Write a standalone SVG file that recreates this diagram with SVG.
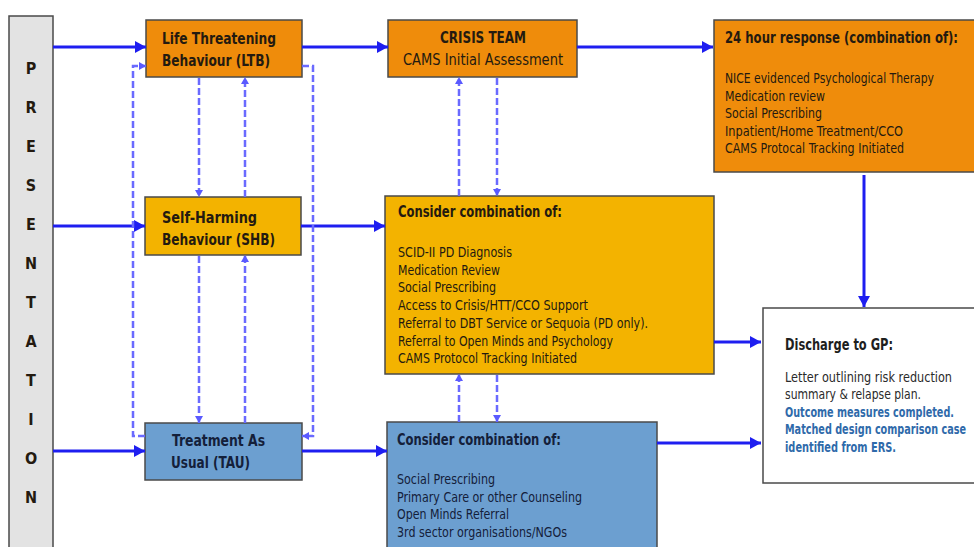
<svg xmlns="http://www.w3.org/2000/svg" width="974" height="547" viewBox="0 0 974 547">
<defs>
<marker id="ah" markerUnits="userSpaceOnUse" markerWidth="12" markerHeight="12" refX="11" refY="6" orient="auto">
<path d="M0,0 L11,6 L0,12 z" fill="#1e1ef0"/>
</marker>
<marker id="ahd" markerUnits="userSpaceOnUse" markerWidth="8" markerHeight="8" refX="7" refY="4" orient="auto">
<path d="M0,0 L7,4 L0,8 z" fill="#5a5aff"/>
</marker>
</defs>
<style>
text{font-family:"DejaVu Sans Condensed","Liberation Sans Narrow","Liberation Sans",sans-serif;fill:#241a10}
.t{font-size:16px;font-weight:bold}
.r{font-size:16px}
.i{font-size:13.5px}
.b{fill:#2f6aaa}
.box{stroke:#4a4a4a;stroke-width:1.5}
.sol{fill:none;stroke:#1e1ef0;stroke-width:3;marker-end:url(#ah)}
.dsh{fill:none;stroke:#6a6aff;stroke-width:2.5;stroke-dasharray:7 3;marker-end:url(#ahd)}
</style>
<rect width="974" height="547" fill="#ffffff"/>

<g id="presentation">
<rect class="box" x="9" y="16" width="44" height="545" fill="#e3e3e3" stroke="#777"/>
<text class="t" text-anchor="middle" font-size="15px"><tspan x="31" y="74">P</tspan><tspan x="31" y="113">R</tspan><tspan x="31" y="152">E</tspan><tspan x="31" y="191">S</tspan><tspan x="31" y="230">E</tspan><tspan x="31" y="269">N</tspan><tspan x="31" y="308">T</tspan><tspan x="31" y="347">A</tspan><tspan x="31" y="386">T</tspan><tspan x="31" y="425">I</tspan><tspan x="31" y="464">O</tspan><tspan x="31" y="503">N</tspan></text>
</g>

<g id="ltb">
<rect class="box" x="146" y="20" width="156" height="57" fill="#ef8c0b"/>
<text class="t" x="162" y="44" textLength="114" lengthAdjust="spacingAndGlyphs">Life Threatening</text>
<text class="t" x="162" y="66" textLength="108" lengthAdjust="spacingAndGlyphs">Behaviour (LTB)</text>
</g>

<g id="shb">
<rect class="box" x="145" y="197" width="156" height="58" fill="#f3b300"/>
<text class="t" x="162" y="223" textLength="95" lengthAdjust="spacingAndGlyphs">Self-Harming</text>
<text class="t" x="162" y="245" textLength="113" lengthAdjust="spacingAndGlyphs">Behaviour (SHB)</text>
</g>

<g id="tau">
<rect class="box" x="145" y="423" width="157" height="57" fill="#6c9fd0"/>
<text class="t" x="172" y="446" textLength="93" lengthAdjust="spacingAndGlyphs" style="fill:#14203a">Treatment As</text>
<text class="t" x="171" y="468" textLength="79" lengthAdjust="spacingAndGlyphs" style="fill:#14203a">Usual (TAU)</text>
</g>

<g id="crisis">
<rect class="box" x="388" y="20" width="189" height="57" fill="#ef8c0b"/>
<text class="t" x="483" y="43" text-anchor="middle" textLength="86" lengthAdjust="spacingAndGlyphs">CRISIS TEAM</text>
<text class="r" x="483" y="65" text-anchor="middle" textLength="160" lengthAdjust="spacingAndGlyphs">CAMS Initial Assessment</text>
</g>

<g id="response24">
<rect class="box" x="714" y="20" width="270" height="152" fill="#ef8c0b"/>
<text class="t" x="725" y="43" textLength="233" lengthAdjust="spacingAndGlyphs">24 hour response (combination of):</text>
<text class="i" x="725" y="83" textLength="209" lengthAdjust="spacingAndGlyphs">NICE evidenced Psychological Therapy</text>
<text class="i" x="725" y="100.5" textLength="100" lengthAdjust="spacingAndGlyphs">Medication review</text>
<text class="i" x="725" y="118" textLength="97" lengthAdjust="spacingAndGlyphs">Social Prescribing</text>
<text class="i" x="725" y="135.5" textLength="178" lengthAdjust="spacingAndGlyphs">Inpatient/Home Treatment/CCO</text>
<text class="i" x="725" y="153" textLength="179" lengthAdjust="spacingAndGlyphs">CAMS Protocal Tracking Initiated</text>
</g>

<g id="consider-shb">
<rect class="box" x="385" y="196" width="329" height="178" fill="#f3b300"/>
<text class="t" x="398" y="217" textLength="164" lengthAdjust="spacingAndGlyphs">Consider combination of:</text>
<text class="i" x="398" y="257" textLength="114" lengthAdjust="spacingAndGlyphs">SCID-II PD Diagnosis</text>
<text class="i" x="398" y="274.7" textLength="102" lengthAdjust="spacingAndGlyphs">Medication Review</text>
<text class="i" x="398" y="292.4" textLength="98" lengthAdjust="spacingAndGlyphs">Social Prescribing</text>
<text class="i" x="398" y="310.1" textLength="190" lengthAdjust="spacingAndGlyphs">Access to Crisis/HTT/CCO Support</text>
<text class="i" x="398" y="327.8" textLength="250" lengthAdjust="spacingAndGlyphs">Referral to DBT Service or Sequoia (PD only).</text>
<text class="i" x="398" y="345.5" textLength="215" lengthAdjust="spacingAndGlyphs">Referral to Open Minds and Psychology</text>
<text class="i" x="398" y="363.2" textLength="179" lengthAdjust="spacingAndGlyphs">CAMS Protocol Tracking Initiated</text>
</g>

<g id="consider-tau">
<rect class="box" x="387" y="422" width="270" height="140" fill="#6c9fd0"/>
<text class="t" x="397" y="445" textLength="164" lengthAdjust="spacingAndGlyphs" style="fill:#14203a">Consider combination of:</text>
<text class="i" x="397" y="484" textLength="98" lengthAdjust="spacingAndGlyphs" style="fill:#14203a">Social Prescribing</text>
<text class="i" x="397" y="501.7" textLength="185" lengthAdjust="spacingAndGlyphs" style="fill:#14203a">Primary Care or other Counseling</text>
<text class="i" x="397" y="519.4" textLength="112" lengthAdjust="spacingAndGlyphs" style="fill:#14203a">Open Minds Referral</text>
<text class="i" x="397" y="537.1" textLength="170" lengthAdjust="spacingAndGlyphs" style="fill:#14203a">3rd sector organisations/NGOs</text>
</g>

<g id="discharge">
<rect class="box" x="763" y="308" width="220" height="175" fill="#ffffff"/>
<text class="t" x="785" y="350" textLength="108" lengthAdjust="spacingAndGlyphs" style="fill:#1e1e1e">Discharge to GP:</text>
<text class="i" x="785" y="381.5" textLength="167" lengthAdjust="spacingAndGlyphs" style="fill:#2a2a2a">Letter outlining risk reduction</text>
<text class="i" x="785" y="399" textLength="136" lengthAdjust="spacingAndGlyphs" style="fill:#2a2a2a">summary &amp; relapse plan.</text>
<text class="i b" x="785" y="416.5" textLength="169" lengthAdjust="spacingAndGlyphs" font-weight="bold">Outcome measures completed.</text>
<text class="i b" x="785" y="434" textLength="181" lengthAdjust="spacingAndGlyphs" font-weight="bold">Matched design comparison case</text>
<text class="i b" x="785" y="451.5" textLength="111" lengthAdjust="spacingAndGlyphs" font-weight="bold">identified from ERS.</text>
</g>

<g id="connectors">
<path class="sol" d="M53,47 H146"/>
<path class="sol" d="M302,47 H388"/>
<path class="sol" d="M577,47 H713"/>
<path class="sol" d="M53,226 H145"/>
<path class="sol" d="M301,226 H385"/>
<path class="sol" d="M53,451 H145"/>
<path class="sol" d="M302,451 H387"/>
<path class="sol" d="M714,342 H761"/>
<path class="sol" d="M657,443 H761"/>
<path class="sol" d="M864,175 V307"/>

<path class="dsh" d="M199,78 V197"/>
<path class="dsh" d="M245,197 V77"/>
<path class="dsh" d="M199,256 V423"/>
<path class="dsh" d="M245,423 V255"/>
<path class="dsh" d="M145,436 H133 V66 H146"/>
<path class="dsh" d="M302,66 H313 V436 H302"/>
<path class="dsh" d="M459,196 V77"/>
<path class="dsh" d="M497,78 V196"/>
<path class="dsh" d="M459,422 V374"/>
<path class="dsh" d="M497,375 V422"/>
</g>
</svg>
